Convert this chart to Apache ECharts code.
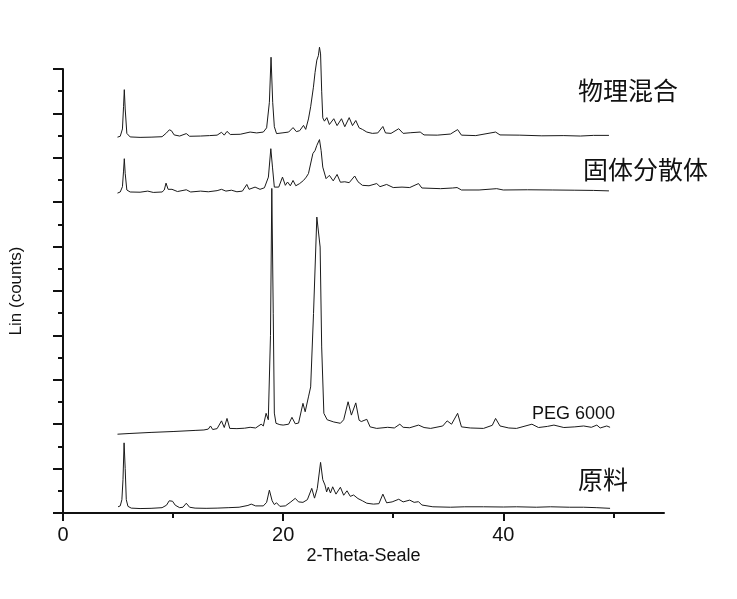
<!DOCTYPE html>
<html>
<head>
<meta charset="utf-8">
<script src="https://cdn.jsdelivr.net/npm/echarts@6/dist/echarts.min.js"></script>
<style>
html,body{margin:0;padding:0;background:#fff;}
#chart{width:737px;height:599px;}
</style>
</head>
<body>
<div id="chart"></div>
<script>
// ---- data (2θ in degrees, intensity in arbitrary counts incl. stacking offset) ----
const xMajorTicks = [0, 20, 40];
const xMinorTicks = [10, 30, 50];
const seriesNames = ['原料', 'PEG 6000', '固体分散体', '物理混合'];

const rawMaterial = [
  [5.0,28],[5.2,32],[5.35,60],[5.45,150],[5.55,316],[5.65,200],[5.75,60],[5.9,30],[6.2,22],[7,20],[8,21],
  [9.0,24],[9.4,35],[9.65,55],[9.8,50],[9.95,53],[10.2,35],[10.6,24],[10.9,26],[11.2,44],[11.5,26],[12,22],
  [13,21],[14,22],[15,24],[16,26],[16.8,34],[17.1,40],[17.5,32],[18.2,32],[18.5,48],[18.75,103],[19.0,55],
  [19.2,38],[19.4,46],[19.7,30],[20.2,32],[20.7,50],[21.1,66],[21.4,50],[21.8,48],[22.2,60],[22.6,111],
  [22.85,67],[23.1,110],[23.4,228],[23.6,150],[23.8,126],[23.95,95],[24.1,116],[24.3,90],[24.5,118],
  [24.8,85],[25.2,116],[25.5,80],[25.8,100],[26.1,75],[26.4,81],[26.8,65],[27.2,55],[27.6,44],[28.2,40],
  [28.7,42],[29.06,85],[29.4,46],[29.9,50],[30.5,62],[30.9,50],[31.5,58],[31.9,48],[32.3,51],[32.6,36],
  [33.6,28],[35.2,26],[36.5,28],[38.2,28],[40,27],[41.2,28],[43,26],[44.3,28],[46,26],[47.3,26],[48.5,24],[49.7,21]
];

const peg6000 = [
  [4.95,355],[6,358],[8,363],[10,367],[12,372],[12.8,374],[13.2,378],[13.4,392],[13.6,376],[14.0,380],
  [14.4,415],[14.65,385],[14.9,426],[15.15,381],[15.8,380],[16.5,382],[17.0,386],[17.5,383],[18.0,400],
  [18.2,392],[18.45,449],[18.65,420],[18.85,800],[18.97,1462],[19.1,900],[19.2,450],[19.35,404],[19.7,398],
  [20.0,396],[20.5,400],[20.8,431],[21.1,402],[21.4,405],[21.8,494],[22.0,456],[22.3,523],[22.5,568],
  [22.76,899],[23.06,1333],[23.36,1198],[23.5,748],[23.7,449],[24.0,420],[24.6,410],[25.2,404],[25.5,420],
  [25.9,501],[26.2,441],[26.6,496],[26.9,418],[27.1,412],[27.6,422],[27.9,388],[28.5,381],[29.5,386],
  [30.1,383],[30.6,400],[30.9,386],[31.5,384],[32.3,396],[32.8,385],[33.4,381],[34.5,392],[34.9,415],
  [35.3,400],[35.85,449],[36.2,388],[37,383],[38.2,381],[39.0,395],[39.3,426],[39.7,392],[40.5,383],
  [41.2,381],[42.6,400],[43.2,385],[44.0,390],[44.6,396],[45.5,385],[46.5,388],[47.3,392],[48.0,386],
  [48.5,396],[48.8,383],[49.4,392],[49.7,386]
];

const solidDispersion = [
  [4.95,1441],[5.2,1446],[5.4,1470],[5.5,1540],[5.57,1596],[5.65,1530],[5.8,1455],[6.1,1446],[7.0,1445],
  [7.7,1450],[8.2,1444],[9.0,1446],[9.2,1455],[9.36,1486],[9.55,1458],[9.9,1458],[10.4,1448],[11.2,1456],
  [11.6,1446],[12.5,1450],[13.2,1447],[14.0,1452],[14.4,1458],[14.8,1450],[15.3,1454],[15.8,1447],
  [16.3,1450],[16.7,1480],[16.9,1458],[17.45,1468],[17.9,1458],[18.3,1465],[18.66,1513],[18.88,1641],
  [19.03,1558],[19.2,1468],[19.6,1468],[19.94,1513],[20.2,1476],[20.4,1491],[20.65,1474],[20.9,1498],
  [21.15,1474],[21.5,1484],[21.85,1498],[22.1,1513],[22.3,1529],[22.45,1520],[22.7,1619],[22.9,1633],
  [23.06,1656],[23.3,1682],[23.45,1633],[23.6,1558],[23.9,1506],[24.2,1521],[24.55,1496],[24.9,1525],
  [25.2,1490],[25.6,1492],[26.0,1488],[26.5,1518],[26.8,1492],[27.2,1476],[27.8,1474],[28.5,1484],
  [28.8,1470],[29.4,1480],[30.0,1466],[30.8,1468],[31.5,1466],[32.3,1484],[32.6,1464],[34.3,1461],
  [35.4,1464],[35.8,1466],[36.2,1455],[37.8,1455],[39.4,1461],[40,1455],[42.2,1456],[44.5,1455],
  [46.5,1454],[48.2,1453],[49.6,1451]
];

const physicalMix = [
  [4.95,1693],[5.2,1697],[5.4,1730],[5.5,1830],[5.57,1907],[5.65,1820],[5.8,1710],[6.1,1694],[7.0,1692],
  [8.0,1693],[9.0,1695],[9.4,1712],[9.66,1726],[9.85,1722],[10.1,1703],[10.6,1698],[11.2,1709],[11.5,1697],
  [12.5,1698],[13.3,1700],[14.0,1702],[14.4,1715],[14.65,1702],[14.9,1719],[15.2,1705],[16.1,1706],
  [17.0,1716],[17.6,1712],[18.2,1716],[18.5,1735],[18.75,1850],[18.9,2053],[19.05,1850],[19.2,1740],
  [19.4,1709],[19.9,1712],[20.5,1716],[20.9,1736],[21.2,1718],[21.5,1722],[21.85,1746],[22.05,1728],
  [22.3,1775],[22.5,1830],[22.75,1918],[22.9,1985],[23.06,2040],[23.2,2060],[23.3,2098],[23.4,2068],
  [23.5,1900],[23.6,1780],[23.75,1765],[23.97,1781],[24.2,1750],[24.6,1776],[24.9,1745],[25.3,1776],
  [25.6,1740],[26.0,1781],[26.3,1745],[26.6,1768],[26.9,1735],[27.2,1728],[27.6,1716],[28.1,1710],
  [28.6,1712],[29.06,1741],[29.3,1712],[29.8,1710],[30.5,1731],[30.9,1710],[31.6,1713],[32.45,1716],
  [32.8,1703],[34.0,1702],[35.2,1707],[35.85,1727],[36.2,1702],[37.5,1700],[39.3,1716],[39.7,1703],
  [41.5,1702],[43.5,1699],[45.5,1700],[47.0,1698],[48.2,1701],[49.6,1701]
];

const seriesData = [rawMaterial, peg6000, solidDispersion, physicalMix];

// ---- chart ----
const chart = echarts.init(document.getElementById('chart'), null, {renderer: 'canvas'});
const axisColor = '#111';
const latin = "'Liberation Sans', Arial, sans-serif";
const cjk = "'Noto Sans CJK SC', sans-serif";

const option = {
  animation: false,
  backgroundColor: '#fff',
  grid: {left: 63, right: 73, top: 69, bottom: 86, containLabel: false},
  xAxis: [
    {
      type: 'value', min: 0, max: 54.6, position: 'bottom',
      name: '2-Theta-Seale', nameLocation: 'middle', nameGap: 34,
      nameTextStyle: {fontFamily: latin, fontSize: 18, color: axisColor},
      axisLine: {onZero: false, lineStyle: {color: axisColor, width: 2}},
      axisTick: {show: true, length: 5, lineStyle: {color: axisColor, width: 2}, customValues: xMinorTicks},
      axisLabel: {show: false},
      splitLine: {show: false}
    },
    {
      type: 'value', min: 0, max: 54.6, position: 'bottom',
      axisLine: {show: false, onZero: false},
      axisTick: {show: true, length: 8, lineStyle: {color: axisColor, width: 2}, customValues: xMajorTicks},
      axisLabel: {show: true, customValues: xMajorTicks, margin: 12, fontFamily: latin, fontSize: 20, color: axisColor},
      splitLine: {show: false}
    }
  ],
  yAxis: {
    type: 'value', min: 0, max: 2000, interval: 200,
    name: 'Lin (counts)', nameLocation: 'middle', nameGap: 38, nameRotate: 90,
    nameTextStyle: {fontFamily: latin, fontSize: 17, color: axisColor},
    axisLine: {show: true, onZero: false, lineStyle: {color: axisColor, width: 2}},
    axisTick: {show: true, length: 10, lineStyle: {color: axisColor, width: 2}},
    minorTick: {show: true, splitNumber: 2, length: 5, lineStyle: {color: axisColor, width: 2}},
    axisLabel: {show: false},
    splitLine: {show: false}
  },
  series: seriesData.map((d, i) => ({
    name: seriesNames[i],
    type: 'line',
    xAxisIndex: 0,
    data: d,
    showSymbol: false,
    symbol: 'none',
    clip: false,
    smooth: false,
    lineStyle: {color: '#1a1a1a', width: 1},
    z: 3
  })),
  graphic: [
    {type: 'text', x: 578, y: 90, style: {text: '物理混合', font: '25px ' + cjk, fill: '#111', align: 'left', verticalAlign: 'middle'}},
    {type: 'text', x: 583, y: 169, style: {text: '固体分散体', font: '25px ' + cjk, fill: '#111', align: 'left', verticalAlign: 'middle'}},
    {type: 'text', x: 532, y: 414, style: {text: 'PEG 6000', font: '18px ' + latin, fill: '#111', align: 'left', verticalAlign: 'middle'}},
    {type: 'text', x: 578, y: 479, style: {text: '原料', font: '25px ' + cjk, fill: '#111', align: 'left', verticalAlign: 'middle'}}
  ]
};
chart.setOption(option);
</script>
</body>
</html>
